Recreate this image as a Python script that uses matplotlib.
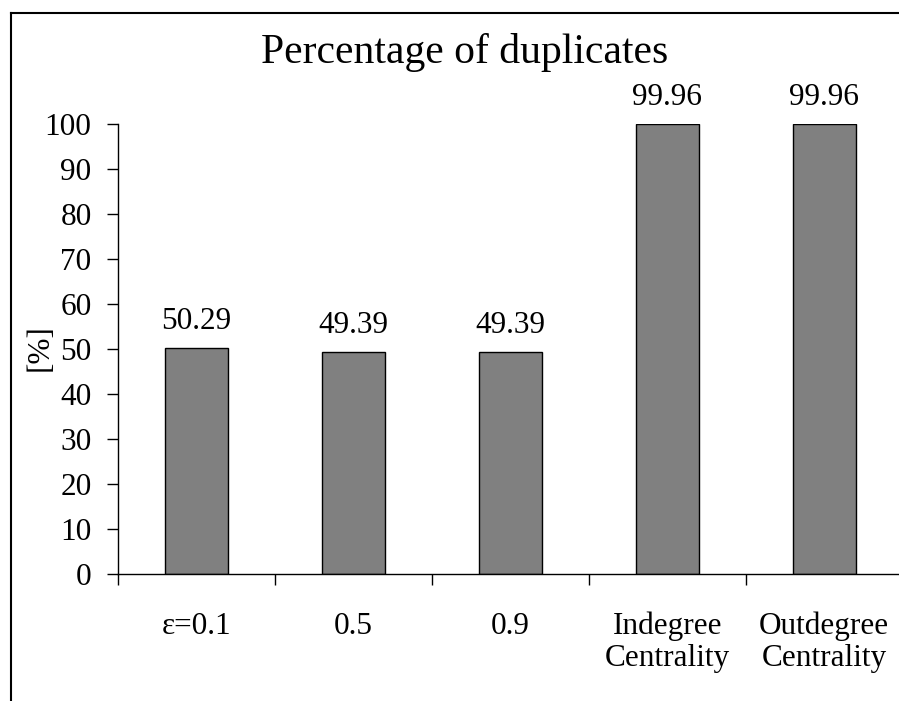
import numpy as np
import matplotlib
matplotlib.use('Agg')
import matplotlib.pyplot as plt
from matplotlib.lines import Line2D

# data
categories = ['\u03b5=0.1', '0.5', '0.9', 'Indegree\nCentrality', 'Outdegree\nCentrality']
values = [50.29, 49.39, 49.39, 99.96, 99.96]
y_ticks = [0, 10, 20, 30, 40, 50, 60, 70, 80, 90, 100]

plt.rcParams['font.family'] = ['Liberation Serif', 'DejaVu Serif']
plt.rcParams['font.size'] = 22.5

W, H = 899, 701
fig = plt.figure(figsize=(W / 100, H / 100), dpi=100)

# axes placed in pixel terms (right edge runs past the figure, as in the reference)
ax = fig.add_axes([118 / W, (H - 574) / H, 784.6 / W, 450 / H])

x = np.arange(len(categories))
ax.bar(x, values, width=0.4, color='#808080', edgecolor='black', linewidth=1.0, zorder=2)

for xi, v in zip(x, values):
    ax.annotate('%.2f' % v, (xi, v), xytext=(0, 13.7), textcoords='offset points',
                ha='center', va='baseline', fontsize=22.5, annotation_clip=False)

ax.set_xlim(-0.5, len(categories) - 0.5)
ax.set_ylim(0, 100)
ax.set_yticks(y_ticks)
ax.tick_params(axis='y', direction='out', length=8, width=1.0, pad=11, labelsize=22.5)

# boundary ticks without labels, labels at the category centres
ax.set_xticks(np.arange(len(categories) + 1) - 0.5)
ax.set_xticklabels([])
ax.tick_params(axis='x', which='major', direction='out', length=8, width=1.0)
ax.set_xticks(x, minor=True)
ax.set_xticklabels(categories, minor=True, linespacing=1.15)
ax.tick_params(axis='x', which='minor', length=0, pad=27, labelsize=22.5)

for s in ['top', 'right']:
    ax.spines[s].set_visible(False)
for s in ['left', 'bottom']:
    ax.spines[s].set_linewidth(1.0)

fig.text(465 / W, 1 - 63 / H, 'Percentage of duplicates', ha='center', va='baseline', fontsize=30)
fig.text(40 / W, 1 - 348 / H, '[%]', rotation=90, ha='center', va='center', fontsize=22.5)

# chart frame, only left and top edges are inside the picture
fx, fy = 11 / W, 1 - 13 / H
fig.add_artist(Line2D([fx, fx], [0, fy], transform=fig.transFigure, color='black', linewidth=1.5))
fig.add_artist(Line2D([fx, 1.0], [fy, fy], transform=fig.transFigure, color='black', linewidth=1.5))

fig.savefig('out.png', dpi=100)
